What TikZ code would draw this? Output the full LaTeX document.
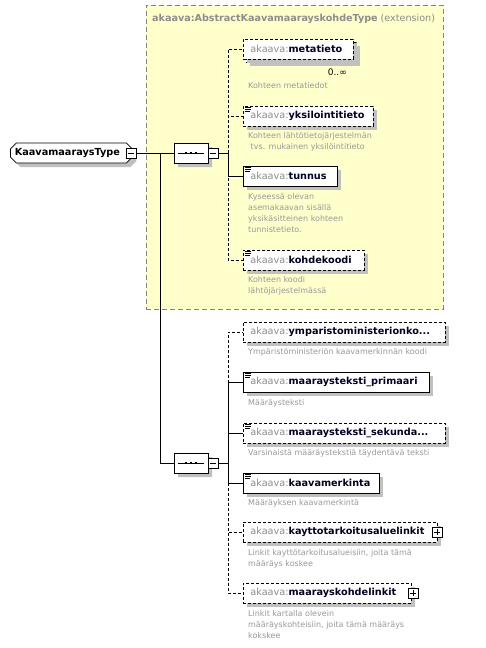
\documentclass[tikz,border=0pt]{standalone}
\usepackage{fontspec}
\setmainfont{DejaVu Sans}
\usetikzlibrary{shapes.misc,shadows,calc}
\definecolor{ylw}{HTML}{FFFFCC}
\definecolor{pfx}{HTML}{8C8C8C}
\definecolor{dsc}{HTML}{999999}
\definecolor{shd}{HTML}{C0C0C0}
\definecolor{nm}{HTML}{000022}
\definecolor{extb}{HTML}{808080}
\newcommand\pf{\textcolor{pfx}{akaava:}}
\newcommand\nmx[1]{\textcolor{nm}{\bfseries #1}}
\tikzset{
  x=1pt, y=-1pt,
  shd/.style={general shadow={fill=shd, shadow xshift=4pt, shadow yshift=-4pt}},
  elem/.style={draw, line width=0.8pt, fill=white, anchor=west, inner xsep=7pt, inner ysep=0pt,
    minimum height=20pt, align=left, font=\fontsize{9.7}{11}\selectfont, shd},
  opt/.style={dash pattern=on 3pt off 2pt},
  desc/.style={anchor=north west, align=left, inner sep=0pt, text=dsc,
    font=\fontsize{8}{11}\selectfont},
  pmbox/.style={draw, line width=0.7pt, fill=white, minimum size=10pt, inner sep=0pt},
  seqbox/.style={draw, line width=0.8pt, fill=white, chamfered rectangle, chamfered rectangle xsep=6pt,
    chamfered rectangle ysep=6pt, minimum width=34pt, minimum height=20pt, inner sep=0pt, shd},
  typebox/.style={draw, line width=0.8pt, fill=white, chamfered rectangle, chamfered rectangle xsep=3pt,
    chamfered rectangle ysep=3pt, minimum width=122pt, minimum height=20pt, inner sep=0pt,
    anchor=west, font=\fontsize{9.7}{11}\selectfont\bfseries, shd},
  conn/.style={line width=0.8pt},
}
\newcommand\icon[1]{\draw[line width=0.6pt] ($(#1.north west)+(2,1.5)$) -- +(6,0)
  ($(#1.north west)+(2,3.5)$) -- +(6,0) ($(#1.north west)+(2,5.5)$) -- +(5,0);}
\newcommand\minus[1]{\draw ($(#1.west)+(2,0)$) -- ($(#1.east)+(-2,0)$);}
\newcommand\plus[1]{\draw ($(#1.west)+(2,0)$) -- ($(#1.east)+(-2,0)$)
  ($(#1.north)+(0,2)$) -- ($(#1.south)+(0,-2)$);}
\newcommand\seqsym[1]{\draw ($(#1.center)+(-13,0)$) -- ($(#1.center)+(13,0)$);
  \foreach \dx in {-5,0,5}{\fill ($(#1.center)+(\dx-1.3,-1.3)$) rectangle +(2.6,2.6);}}
\begin{document}
\begin{tikzpicture}
\useasboundingbox (0,0) rectangle (486,648);
\fill[white] (0,0) rectangle (486,648);
% extension box
\node[draw=extb, dash pattern=on 5pt off 3pt, line width=0.9pt, fill=ylw, anchor=north west,
  minimum width=297pt, minimum height=304pt, inner sep=0pt] (ext) at (146,5) {};
\node[anchor=west, inner sep=0pt, text=pfx, font=\fontsize{9.6}{11}\selectfont] (title) at (152,19)
  {\bfseries akaava:AbstractKaavamaarayskohdeType\mdseries{} (extension)};

% type
\node[typebox] (type) at (10,153) {\hspace*{-8pt}KaavamaaraysType};
\node[pmbox] (tm) at (131,153) {};
\minus{tm}

% sequences
\node[seqbox] (s1) at (191,153) {};
\seqsym{s1}
\node[pmbox] (s1m) at (213,153) {};
\minus{s1m}
\node[seqbox] (s2) at (191,463) {};
\seqsym{s2}
\node[pmbox] (s2m) at (213,463) {};
\minus{s2m}

\coordinate (j) at (160,153);
\coordinate (v1) at (228,153);
\coordinate (v2) at (228,463);
\draw[conn] (tm.east) -- (s1.west);
\draw[conn] (j) |- (s2.west);
\draw[conn] (s1m.east) -- (v1);
\draw[conn] (s2m.east) -- (v2);

% group 1 elements
\node[elem, opt, text width=96pt] (metab) at (246,52) {\phantom{x}};
\node[elem, opt, text width=96pt, general shadow={}] (meta) at (243,49) {\pf\nmx{metatieto}};
\node[anchor=east, inner sep=0pt, font=\fontsize{9}{10}\selectfont] (metam) at (347,72) {0..∞};
\node[desc] (metad) at (248,82) {Kohteen metatiedot};

\node[elem, opt, text width=116pt] (yksi) at (243,116) {\pf\nmx{yksilointitieto}};
\icon{yksi}
\node[desc] (yksid) at (248,132) {Kohteen lähtötietojärjestelmän\\\ tvs. mukainen yksilöintitieto};

\node[elem, text width=80pt] (tunnus) at (243,176) {\pf\nmx{tunnus}};
\icon{tunnus}
\node[desc] (tunnusd) at (248,193) {Kyseessä olevan\\asemakaavan sisällä\\yksikäsitteinen kohteen\\tunnistetieto.};

\node[elem, opt, text width=107pt] (kohde) at (243,260) {\pf\nmx{kohdekoodi}};
\icon{kohde}
\node[desc] (kohded) at (248,276) {Kohteen koodi\\lähtöjärjestelmässä};

\draw[conn, opt] (v1) |- (meta.west);
\draw[conn, opt] (v1) |- (yksi.west);
\draw[conn, opt] (v1) |- (kohde.west);
\draw[conn] (v1) |- (tunnus.west);

% group 2 elements
\node[elem, opt, text width=188pt] (ymp) at (243,332) {\pf\nmx{ymparistoministerionko...}};
\node[desc] (ympd) at (248,348) {Ympäristöministeriön kaavamerkinnän koodi};

\node[elem, text width=172pt] (prim) at (243,382) {\pf\nmx{maaraysteksti\_primaari}};
\icon{prim}
\node[desc] (primd) at (248,399) {Määräysteksti};

\node[elem, opt, text width=188pt] (seku) at (243,433) {\pf\nmx{maaraysteksti\_sekunda...}};
\icon{seku}
\node[desc] (sekud) at (248,449) {Varsinaistä määräystekstiä täydentävä teksti};

\node[elem, text width=122pt] (kaava) at (243,483) {\pf\nmx{kaavamerkinta}};
\icon{kaava}
\node[desc] (kaavad) at (248,499) {Määräyksen kaavamerkintä};

\node[elem, opt, text width=180pt] (kaytto) at (243,532) {\pf\nmx{kayttotarkoitusaluelinkit}};
\node[pmbox] (kayttop) at (437,532) {};
\plus{kayttop}
\node[desc] (kayttod) at (248,549) {Linkit kayttötarkoitusalueisiin, joita tämä\\määräys koskee};

\node[elem, opt, text width=154pt] (mkl) at (243,593) {\pf\nmx{maarayskohdelinkit}};
\node[pmbox] (mklp) at (413,593) {};
\plus{mklp}
\node[desc] (mkld) at (248,610) {Linkit kartalla olevein\\määräyskohteisiin, joita tämä määräys\\kokskee};

\draw[conn, opt] (v2) |- (ymp.west);
\draw[conn, opt] (v2) |- (kaytto.west);
\draw[conn, opt] (v2) |- (mkl.west);
\draw[conn] (v2) |- (prim.west);
\draw[conn] (v2) |- (seku.west);
\draw[conn] (v2) |- (kaava.west);
\end{tikzpicture}
\end{document}
